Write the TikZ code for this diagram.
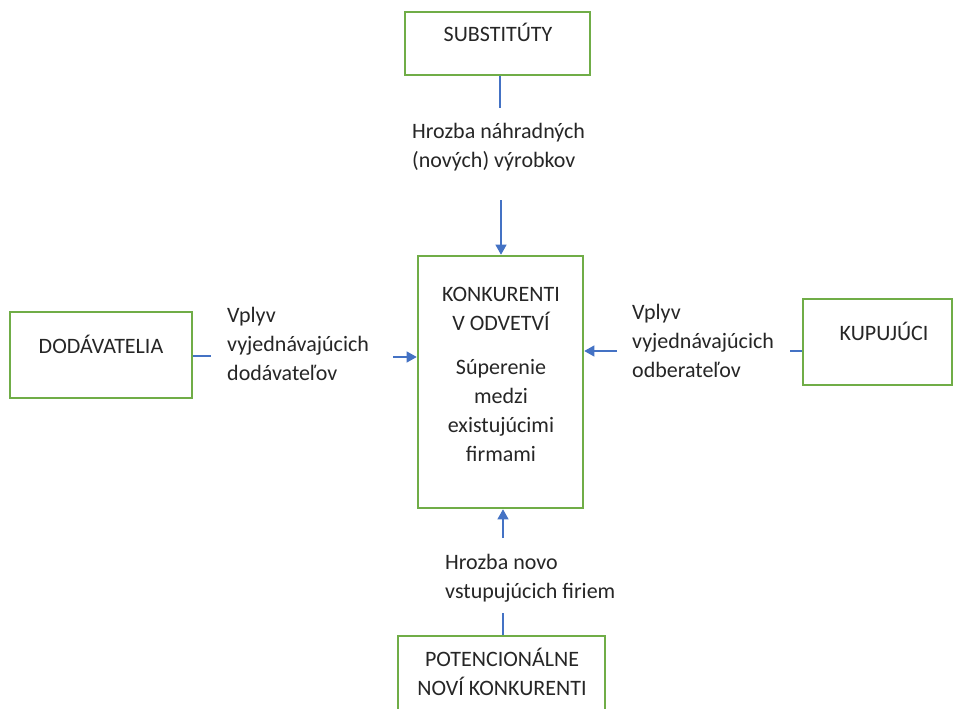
\documentclass[tikz,border=0pt]{standalone}
\usepackage{fontspec}
\setmainfont{Carlito}
\usetikzlibrary{arrows.meta}
\definecolor{boxgreen}{HTML}{70AD47}
\definecolor{arrowblue}{HTML}{4472C4}
\definecolor{textgray}{HTML}{262626}
\begin{document}
\begin{tikzpicture}[x=1pt,y=-1pt,
  box/.style={draw=boxgreen,line width=2.6pt,inner sep=0pt},
  txt/.style={font=\fontsize{22}{29}\selectfont,inner sep=0pt,text=textgray},
  conn/.style={draw=arrowblue,line width=1.1pt},
  arr/.style={conn,-{Triangle[length=10pt,width=11pt]}}]
\useasboundingbox[fill=white] (0,0) rectangle (953,709);
% boxes
\node[box,minimum width=185pt,minimum height=63pt] (sub) at (497.5,43.5) {};
\node[box,minimum width=165pt,minimum height=252pt] (ctr) at (500.5,382) {};
\node[box,minimum width=182pt,minimum height=86pt] (dod) at (101,355) {};
\node[box,minimum width=149pt,minimum height=86pt] (kup) at (877.5,342) {};
\node[box,minimum width=207pt,minimum height=94pt] (pot) at (501.5,683) {};
% box texts
\node[txt,anchor=base] (subT) at (498,42) {SUBSTITÚTY};
\node[txt,anchor=base] (dodT) at (101,353) {DODÁVATELIA};
\node[txt,anchor=base] (kupT) at (884,340) {KUPUJÚCI};
\node[txt,anchor=base,align=center] (ctrT1) at (501,330) {KONKURENTI\\V ODVETVÍ};
\node[txt,anchor=base,align=center] (ctrT2) at (501,461) {Súperenie\\medzi\\existujúcimi\\firmami};
\node[txt,anchor=base,align=center] (potT) at (502,695) {POTENCIONÁLNE\\NOVÍ KONKURENTI};
% labels
\node[txt,anchor=base west,align=left] (lblT) at (412,167) {Hrozba náhradných\\(nových) výrobkov};
\node[txt,anchor=base west,align=left] (lblL) at (227,380) {Vplyv\\vyjednávajúcich\\dodávateľov};
\node[txt,anchor=base west,align=left] (lblR) at (632,377) {Vplyv\\vyjednávajúcich\\odberateľov};
\node[txt,anchor=base west,align=left] (lblB) at (445,598) {Hrozba novo\\vstupujúcich firiem};
% connectors
\coordinate (t1) at (500,108);
\coordinate (t2) at (501,200);
\draw[conn] (sub.south -| t1) -- (t1);
\draw[arr] (t2) -- (t2 |- ctr.north);
\coordinate (l1) at (211,356);
\coordinate (l2) at (393,357);
\draw[conn] (dod.east |- l1) -- (l1);
\draw[arr] (l2) -- (l2 -| ctr.west);
\coordinate (r1) at (617,351);
\coordinate (r2) at (790,351);
\draw[arr] (r1) -- (r1 -| ctr.east);
\draw[conn] (kup.west |- r2) -- (r2);
\coordinate (b1) at (503,538);
\coordinate (b2) at (503,613);
\draw[arr] (b1) -- (b1 |- ctr.south);
\draw[conn] (pot.north -| b2) -- (b2);
\end{tikzpicture}
\end{document}
